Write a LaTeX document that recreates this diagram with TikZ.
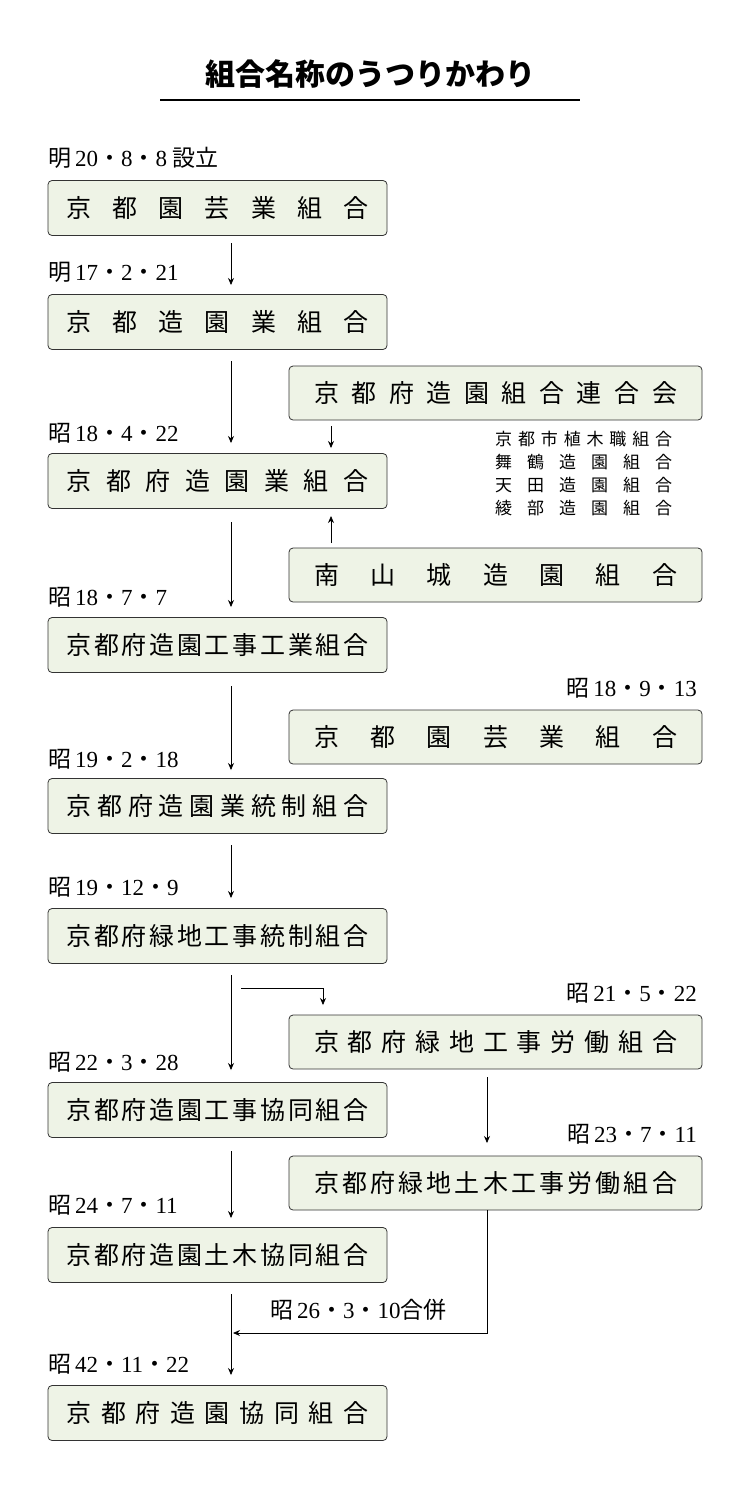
\documentclass[tikz,border=0pt]{standalone}
\usepackage{fontspec}
\setmainfont{Noto Sans CJK JP}
\newfontfamily\numf{Liberation Serif}
\usetikzlibrary{arrows.meta}
\newcommand\nm[1]{{\numf #1}}
\newcommand\ff{\hfill}
\begin{document}
\begin{tikzpicture}[x=1pt,y=-1pt,
 box/.style={draw=black!80,line width=0.8pt,rounded corners=4pt,inner sep=0pt,font=\fontsize{25}{28}\selectfont,fill={rgb,255:red,238;green,243;blue,230}},
 dt/.style={anchor=west,inner sep=0pt,font=\fontsize{23}{26}\selectfont},
 rdt/.style={anchor=east,inner sep=0pt,font=\fontsize{23}{26}\selectfont},
 ar/.style={-{Stealth[length=7pt,width=6pt]},line width=0.8pt},
 ln/.style={line width=0.8pt}]
\useasboundingbox (0,0) rectangle (750,1500);
\node[font=\fontsize{30}{34}\selectfont\bfseries] (title) at (370,74) {組合名称のうつりかわり};
\draw[line width=1.2pt] (160,100) -- (580,100);
% left boxes
\def\LB#1#2#3{\node[box,minimum width=339pt,minimum height=55pt] (#1) at (217.5,#2) {\makebox[302pt][s]{#3}};}
\LB{b1}{208}{京\ff 都\ff 園\ff 芸\ff 業\ff 組\ff 合}
\LB{b2}{322}{京\ff 都\ff 造\ff 園\ff 業\ff 組\ff 合}
\LB{b3}{481}{京\ff 都\ff 府\ff 造\ff 園\ff 業\ff 組\ff 合}
\LB{b4}{645}{京\ff 都\ff 府\ff 造\ff 園\ff 工\ff 事\ff 工\ff 業\ff 組\ff 合}
\LB{b5}{806}{京\ff 都\ff 府\ff 造\ff 園\ff 業\ff 統\ff 制\ff 組\ff 合}
\LB{b6}{936}{京\ff 都\ff 府\ff 緑\ff 地\ff 工\ff 事\ff 統\ff 制\ff 組\ff 合}
\LB{b7}{1110}{京\ff 都\ff 府\ff 造\ff 園\ff 工\ff 事\ff 協\ff 同\ff 組\ff 合}
\LB{b8}{1255}{京\ff 都\ff 府\ff 造\ff 園\ff 土\ff 木\ff 協\ff 同\ff 組\ff 合}
\LB{b9}{1413}{京\ff 都\ff 府\ff 造\ff 園\ff 協\ff 同\ff 組\ff 合}
\def\RB#1#2#3{\node[box,minimum width=413pt,minimum height=54pt] (#1) at (495.5,#2) {\makebox[363pt][s]{#3}};}
\RB{r1}{393}{京\ff 都\ff 府\ff 造\ff 園\ff 組\ff 合\ff 連\ff 合\ff 会}
\RB{r2}{575}{南\ff 山\ff 城\ff 造\ff 園\ff 組\ff 合}
\RB{r3}{737}{京\ff 都\ff 園\ff 芸\ff 業\ff 組\ff 合}
\RB{r4}{1042}{京\ff 都\ff 府\ff 緑\ff 地\ff 工\ff 事\ff 労\ff 働\ff 組\ff 合}
\RB{r5}{1183}{京\ff 都\ff 府\ff 緑\ff 地\ff 土\ff 木\ff 工\ff 事\ff 労\ff 働\ff 組\ff 合}
% dates
\node[dt] (d1) at (48,158) {明\,\nm{20}・\nm{8}・\nm{8}\ 設立};
\node[dt] (d2) at (48,272) {明\,\nm{17}・\nm{2}・\nm{21}};
\node[dt] (d3) at (48,433) {昭\,\nm{18}・\nm{4}・\nm{22}};
\node[dt] (d4) at (48,597) {昭\,\nm{18}・\nm{7}・\nm{7}};
\node[dt] (d5) at (48,759) {昭\,\nm{19}・\nm{2}・\nm{18}};
\node[dt] (d6) at (48,887) {昭\,\nm{19}・\nm{12}・\nm{9}};
\node[dt] (d7) at (48,1062) {昭\,\nm{22}・\nm{3}・\nm{28}};
\node[dt] (d8) at (48,1205) {昭\,\nm{24}・\nm{7}・\nm{11}};
\node[dt] (d9) at (48,1364) {昭\,\nm{42}・\nm{11}・\nm{22}};
\node[rdt] (e1) at (697,688) {昭\,\nm{18}・\nm{9}・\nm{13}};
\node[rdt] (e2) at (697,993) {昭\,\nm{21}・\nm{5}・\nm{22}};
\node[rdt] (e3) at (697,1134) {昭\,\nm{23}・\nm{7}・\nm{11}};
\node[dt] (m) at (270,1310) {昭\,\nm{26}・\nm{3}・\nm{10}合併};
% member list
\node[inner sep=0pt,font=\fontsize{17}{25}\selectfont,anchor=north west] (lst) at (495,428)
 {\begin{tabular}{@{}l@{}}\makebox[177pt][s]{京\ff 都\ff 市\ff 植\ff 木\ff 職\ff 組\ff 合}\\[-2pt]
 \makebox[177pt][s]{舞\ff 鶴\ff 造\ff 園\ff 組\ff 合}\\[-2pt]
 \makebox[177pt][s]{天\ff 田\ff 造\ff 園\ff 組\ff 合}\\[-2pt]
 \makebox[177pt][s]{綾\ff 部\ff 造\ff 園\ff 組\ff 合}\end{tabular}};
% arrows
\draw[ar] (231,243) -- (231,285);
\draw[ar] (231,361) -- (231,443);
\draw[ar] (231,522) -- (231,607);
\draw[ar] (231,686) -- (231,770);
\draw[ar] (231,845) -- (231,898);
\draw[ar] (231,975) -- (231,1070);
\draw[ar] (231,1151) -- (231,1218);
\draw[ar] (231,1294) -- (231,1375);
\draw[ar] (331,426) -- (331,448);
\draw[ar] (331,543) -- (331,516);
\draw[ar] (241,988) -- (323,988) -- (323,1005);
\draw[ar] (487,1077) -- (487,1143);
\draw[ar] (487,1210) -- (487,1333) -- (233,1333);
\end{tikzpicture}
\end{document}
